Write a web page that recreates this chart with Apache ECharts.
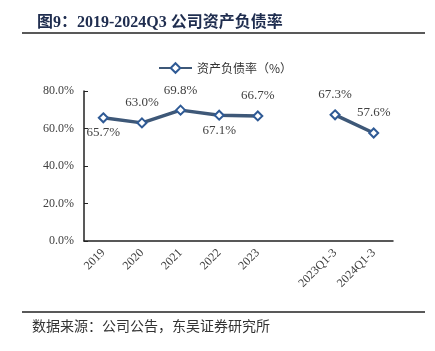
<!DOCTYPE html>
<html>
<head>
<meta charset="utf-8">
<script src="https://cdn.jsdelivr.net/npm/echarts@6/dist/echarts.min.js"></script>
<style>
  html, body { margin: 0; padding: 0; background: #fff; }
  #chart { width: 435px; height: 351px; }
</style>
</head>
<body>
<div id="chart"></div>
<script>
  var categories = ['2019', '2020', '2021', '2022', '2023', '', '2023Q1-3', '2024Q1-3']
  var debtRatio = [65.7, 63.0, 69.8, 67.1, 66.7, null, 67.3, 57.6]
  var yTicks = [0, 20, 40, 60, 80]

  var serif = '"Liberation Serif", "Noto Sans CJK SC", serif'
  var cjk = '"Noto Sans CJK SC", sans-serif'

  // labels that sit under the point
  var below = [0, 3]

  var seriesData = debtRatio.map(function (v, i) {
    if (v === null) return null
    return {
      value: v,
      label: below.indexOf(i) >= 0 ? { position: 'bottom', distance: 3 } : { position: 'top', distance: 8 }
    }
  })

  var chart = echarts.init(document.getElementById('chart'))
  chart.setOption({
    animation: false,
    title: {
      text: '图9：2019-2024Q3 公司资产负债率',
      left: 32,
      top: 10,
      textStyle: { fontFamily: serif, fontWeight: 'bold', fontSize: 16, color: '#1f2d4f' }
    },
    graphic: [
      { type: 'line', shape: { x1: 22, y1: 33, x2: 425, y2: 33 }, style: { stroke: '#222', lineWidth: 1.5 } },
      { type: 'line', shape: { x1: 22, y1: 312, x2: 425, y2: 312 }, style: { stroke: '#222', lineWidth: 1.5 } },
      { type: 'text', left: 32, top: 319, style: { text: '数据来源：公司公告，东吴证券研究所', font: '14px ' + cjk, fill: '#333' } }
    ],
    legend: {
      top: 57,
      left: 153,
      itemWidth: 33,
      itemHeight: 12,
      textStyle: { fontFamily: cjk, fontSize: 12, color: '#333' },
      data: ['资产负债率（%）']
    },
    grid: { left: 84, right: 42, top: 91, bottom: 110 },
    xAxis: {
      type: 'category',
      data: categories,
      axisLine: { lineStyle: { color: '#222', width: 1.5 } },
      axisTick: { inside: true, length: 4, alignWithLabel: false, lineStyle: { color: '#222' } },
      axisLabel: { rotate: 45, interval: 0, fontFamily: serif, fontSize: 12, color: '#404040', margin: 10 }
    },
    yAxis: {
      type: 'value',
      min: yTicks[0],
      max: yTicks[yTicks.length - 1],
      interval: 20,
      axisLine: { show: true, lineStyle: { color: '#222', width: 1.5 } },
      axisTick: { show: true, inside: true, length: 4, lineStyle: { color: '#222' } },
      splitLine: { show: false },
      axisLabel: {
        fontFamily: serif, fontSize: 12, color: '#404040', margin: 10,
        formatter: function (v) { return v.toFixed(1) + '%' }
      }
    },
    series: [{
      name: '资产负债率（%）',
      type: 'line',
      data: seriesData,
      connectNulls: false,
      symbol: 'diamond',
      symbolSize: 9,
      lineStyle: { color: '#3e5878', width: 3.5 },
      itemStyle: { color: '#fff', borderColor: '#2f5a95', borderWidth: 2 },
      label: {
        show: true,
        fontFamily: serif,
        fontSize: 13,
        color: '#404040',
        formatter: function (p) { return p.value.toFixed(1) + '%' }
      }
    }]
  })
</script>
</body>
</html>
